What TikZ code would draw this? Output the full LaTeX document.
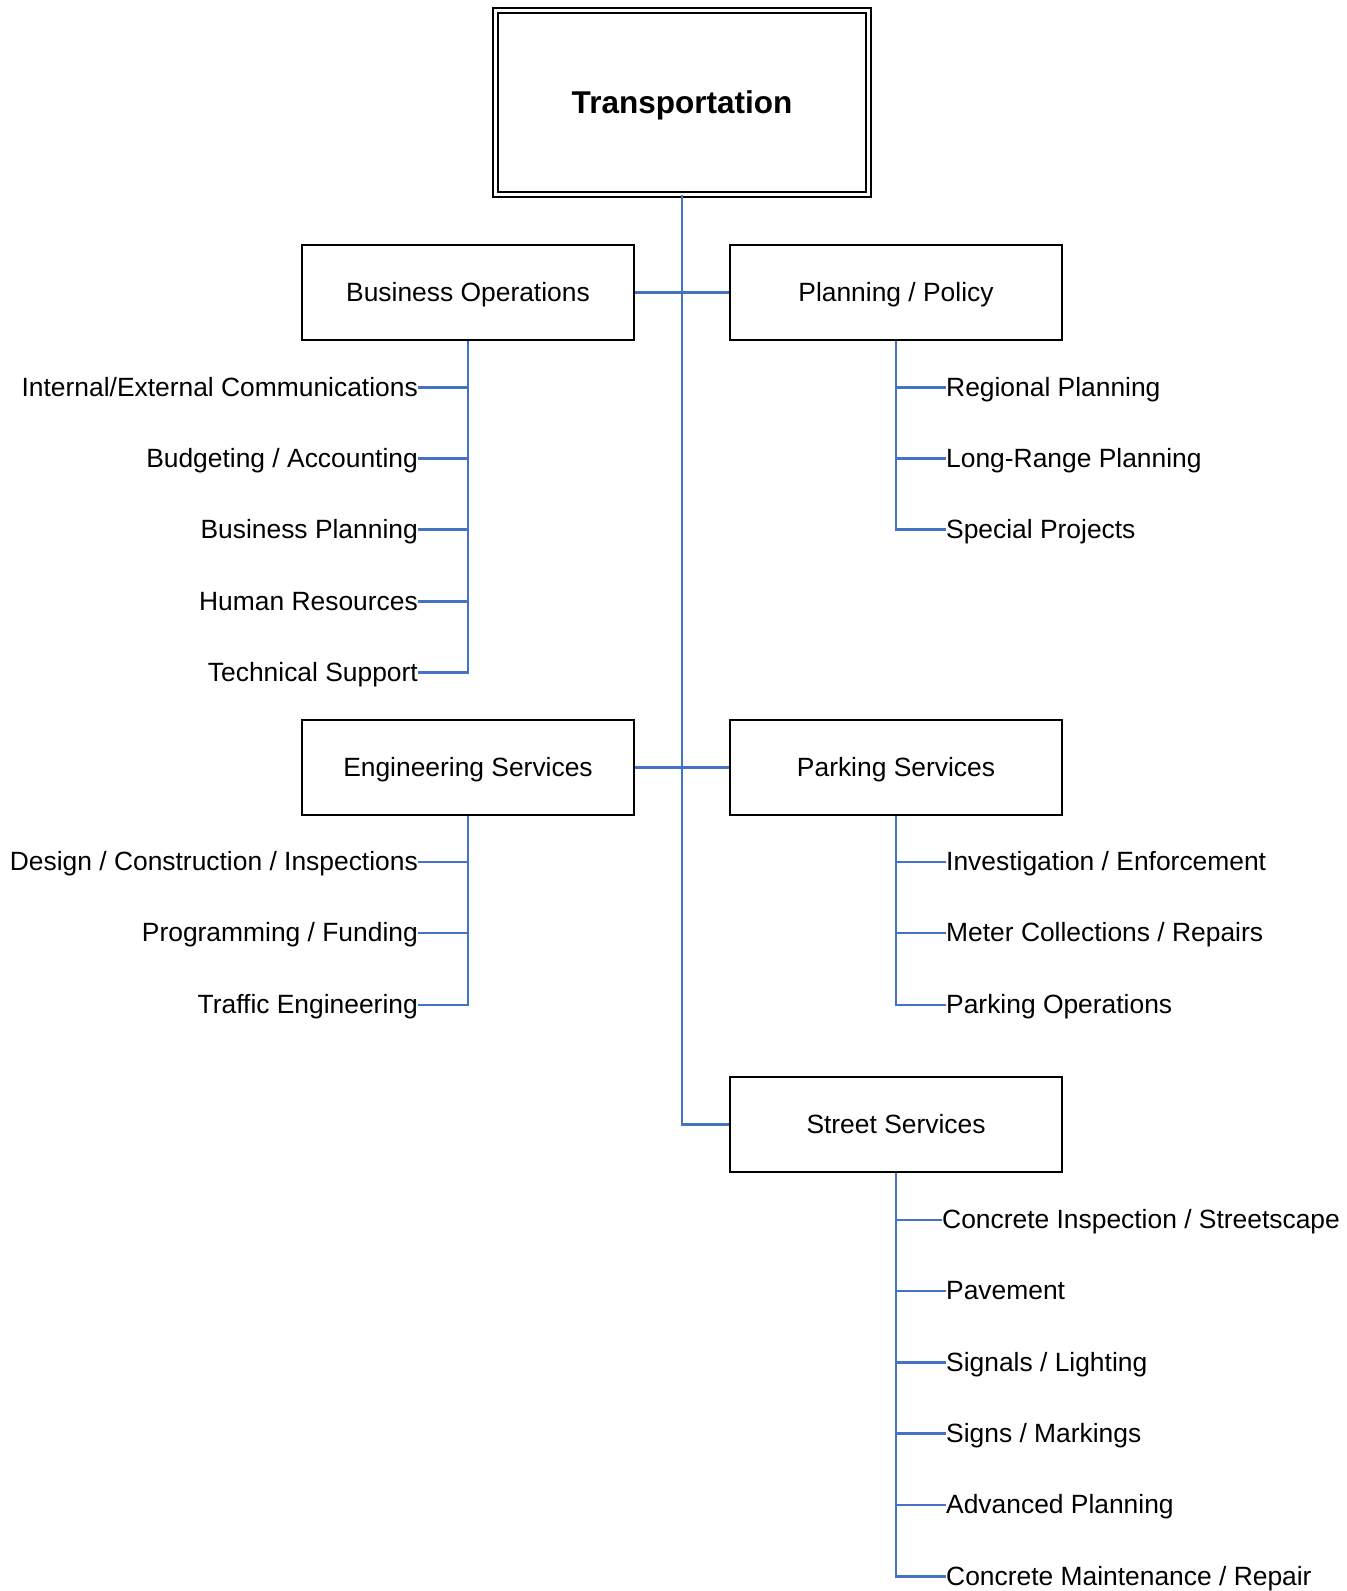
\documentclass[tikz,border=0pt]{standalone}
\usepackage{fontspec}
\setmainfont{Liberation Sans}
\definecolor{connblue}{RGB}{68,114,196}
\begin{document}
\begin{tikzpicture}[x=1pt,y=-1pt,
  unitbox/.style={draw=black, line width=1.9pt, minimum width=332pt, minimum height=95pt, inner sep=0pt,
    text height=19pt, text depth=1.5pt, font=\fontsize{26.4}{30}\selectfont},
  topbox/.style={draw=black, line width=1.7pt, double=white, double distance=3.8pt,
    minimum width=373pt, minimum height=184pt, inner sep=0pt,
    text height=23pt, text depth=1.5pt, font=\bfseries\fontsize{31.5}{36}\selectfont},
  leaf/.style={inner sep=0pt, text height=19pt, text depth=1.5pt, font=\fontsize{26.4}{30}\selectfont},
  conn/.style={draw=connblue, line width=2.2pt}]
\useasboundingbox (0,0) rectangle (1347,1591);
\fill[white] (0,0) rectangle (1347,1591);

\node[topbox] (top) at (682,102.5) {Transportation};
\node[unitbox] (bo) at (468,292.5) {Business Operations};
\node[unitbox] (pp) at (896,292.5) {Planning / Policy};
\node[unitbox] (es) at (468,767.5) {Engineering Services};
\node[unitbox] (ps) at (896,767.5) {Parking Services};
\node[unitbox] (ss) at (896,1124.5) {Street Services};

% trunk
\draw[conn] (top.south) -- (top.south |- ss.west) -- (ss.west);
\draw[conn] (bo.east) -- (pp.west);
\draw[conn] (es.east) -- (ps.west);

% Business Operations children
\node[leaf, anchor=east] (b1) at (418,387.5) {Internal/External Communications};
\node[leaf, anchor=east] (b2) at (418,458.5) {Budgeting / Accounting};
\node[leaf, anchor=east] (b3) at (418,529.5) {Business Planning};
\node[leaf, anchor=east] (b4) at (418,601.5) {Human Resources};
\node[leaf, anchor=east] (b5) at (418,672.5) {Technical Support};
\foreach \n in {b1,b2,b3,b4,b5} \draw[conn] (bo.south) |- (\n.east);

% Planning / Policy children
\node[leaf, anchor=west] (p1) at (946,387.5) {Regional Planning};
\node[leaf, anchor=west] (p2) at (946,458.5) {Long-Range Planning};
\node[leaf, anchor=west] (p3) at (946,529.5) {Special Projects};
\foreach \n in {p1,p2,p3} \draw[conn] (pp.south) |- (\n.west);

% Engineering children
\node[leaf, anchor=east] (e1) at (418,862.2) {Design / Construction / Inspections};
\node[leaf, anchor=east] (e2) at (418,933.2) {Programming / Funding};
\node[leaf, anchor=east] (e3) at (418,1005.2) {Traffic Engineering};
\foreach \n in {e1,e2,e3} \draw[conn] (es.south) |- (\n.east);

% Parking children
\node[leaf, anchor=west] (k1) at (946,862.2) {Investigation / Enforcement};
\node[leaf, anchor=west] (k2) at (946,933.2) {Meter Collections / Repairs};
\node[leaf, anchor=west] (k3) at (946,1005.2) {Parking Operations};
\foreach \n in {k1,k2,k3} \draw[conn] (ps.south) |- (\n.west);

% Street children
\node[leaf, anchor=west] (s1) at (942,1219.7) {Concrete Inspection / Streetscape};
\node[leaf, anchor=west] (s2) at (946,1290.7) {Pavement};
\node[leaf, anchor=west] (s3) at (946,1362.5) {Signals / Lighting};
\node[leaf, anchor=west] (s4) at (946,1433.5) {Signs / Markings};
\node[leaf, anchor=west] (s5) at (946,1505.2) {Advanced Planning};
\node[leaf, anchor=west] (s6) at (946,1576.5) {Concrete Maintenance / Repair};
\foreach \n in {s1,s2,s3,s4,s5,s6} \draw[conn] (ss.south) |- (\n.west);
\end{tikzpicture}
\end{document}
